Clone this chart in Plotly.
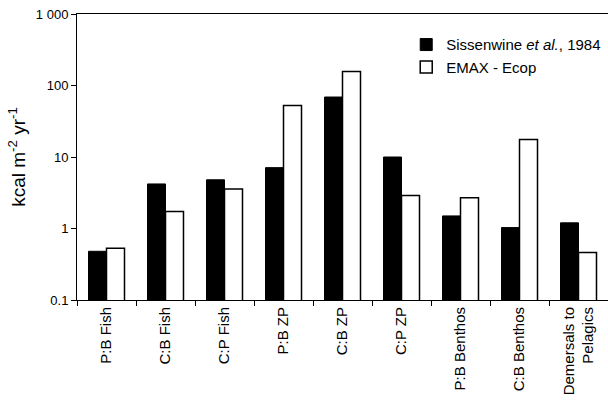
import plotly.graph_objects as go

categories = ["P:B Fish", "C:B Fish", "C:P Fish", "P:B ZP", "C:B ZP", "C:P ZP",
              "P:B Benthos", "C:B Benthos", "Demersals to<br>Pelagics"]
sissenwine = [0.48, 4.2, 4.8, 7.1, 69, 10.0, 1.5, 1.03, 1.2]
emax = [0.53, 1.73, 3.56, 52.5, 157, 2.9, 2.7, 17.6, 0.46]
tick_vals = [0.1, 1, 10, 100, 1000]
tick_text = ["0.1", "1", "10", "100", "1 000"]

font = "Liberation Sans, Arial, sans-serif"

fig = go.Figure()
fig.add_trace(go.Bar(x=categories, y=sissenwine, name="Sissenwine <i>et al.</i>, 1984",
                     marker=dict(color="black", line=dict(color="black", width=1))))
fig.add_trace(go.Bar(x=categories, y=emax, name="EMAX - Ecop",
                     marker=dict(color="white", line=dict(color="black", width=1.5))))

fig.update_layout(
    width=608, height=404,
    margin=dict(l=77, r=0, t=14, b=104),
    paper_bgcolor="white", plot_bgcolor="white",
    barmode="group", bargap=0.39, bargroupgap=0,
    font=dict(family=font, color="black", size=12),
    legend=dict(x=0.62, y=0.95, xanchor="left", yanchor="top",
                bgcolor="rgba(0,0,0,0)", font=dict(size=15, family=font),
                tracegroupgap=0, itemwidth=30),
    showlegend=True,
)
fig.update_xaxes(
    type="category", showline=True, linecolor="black", linewidth=1, mirror=True,
    ticks="outside", tickson="boundaries", ticklen=5, tickcolor="black",
    tickangle=-90, tickfont=dict(size=15, family=font), showgrid=False,
)
fig.update_yaxes(
    type="log", range=[-1, 3], showline=True, linecolor="black", linewidth=1,
    ticks="outside", ticklen=5, tickcolor="black", tickvals=tick_vals, ticktext=tick_text,
    tickfont=dict(size=13, family=font), showgrid=False, zeroline=False,
    title=dict(text="kcal m<sup>-2</sup> yr<sup>-1</sup>", font=dict(size=19, family=font), standoff=5),
)

fig.write_html("out.html")
